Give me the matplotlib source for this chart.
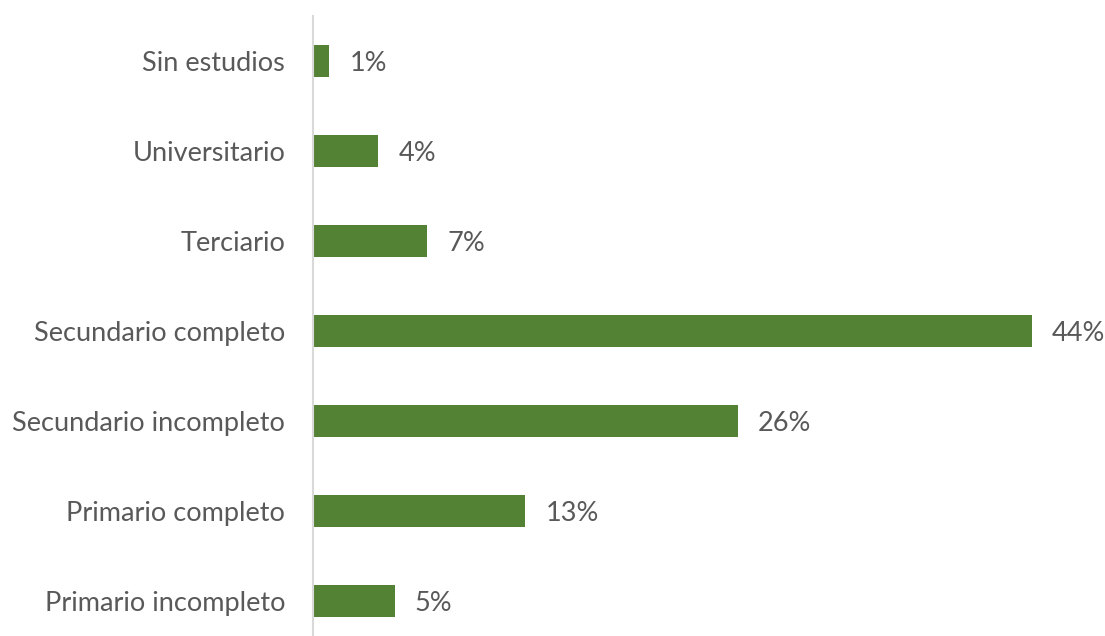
import matplotlib
matplotlib.use("Agg")
import matplotlib.pyplot as plt

categories = ["Sin estudios", "Universitario", "Terciario", "Secundario completo",
              "Secundario incompleto", "Primario completo", "Primario incompleto"]
values = [1, 4, 7, 44, 26, 13, 5]
value_labels = [f"{v}%" for v in values]

BAR_COLOR = "#548235"
TEXT_COLOR = "#595959"
FONT = ["Lato", "DejaVu Sans"]
FS = 19.5

W, H = 1105, 636
fig = plt.figure(figsize=(W / 100, H / 100), dpi=100)
# axes spans from the value axis line to the right edge; extends slightly below the figure
left_px, right_px, top_px, bottom_px = 313, 1097, 16, 646
ax = fig.add_axes([left_px / W, 1 - bottom_px / H,
                   (right_px - left_px) / W, (bottom_px - top_px) / H])

y = list(range(len(categories)))
ax.barh(y, values, height=0.36, color=BAR_COLOR)
ax.set_ylim(len(categories) - 0.5, -0.5)
ax.set_xlim(0, 48)

for yi, v, lab in zip(y, values, value_labels):
    ax.annotate(lab, (v, yi), xytext=(14.5, 0), textcoords="offset points",
                va="center_baseline", ha="left", fontsize=FS, color=TEXT_COLOR,
                family=FONT, clip_on=False)

ax.set_yticks(y)
ax.set_yticklabels(categories, fontsize=FS, color=TEXT_COLOR, family=FONT,
                   va="center_baseline")
ax.tick_params(axis="y", length=0, pad=20)
ax.set_xticks([])
for s in ["top", "right", "bottom"]:
    ax.spines[s].set_visible(False)
ax.spines["left"].set_color("#d9d9d9")
ax.spines["left"].set_linewidth(1.5)

fig.savefig("out.png", dpi=100)
